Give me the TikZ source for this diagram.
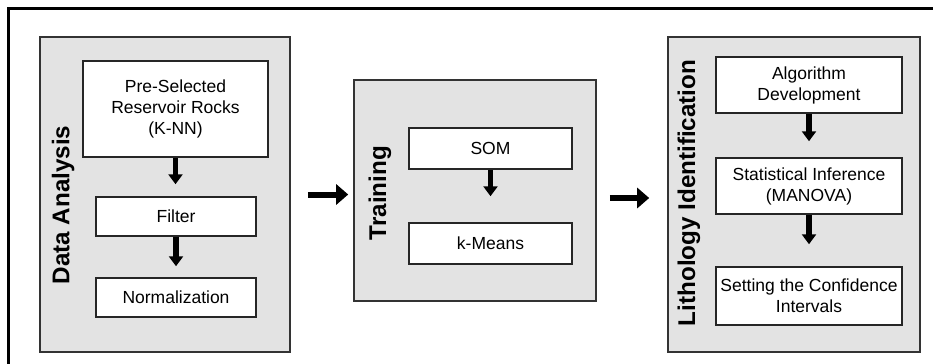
\documentclass[tikz,border=0pt]{standalone}
\usepackage{fontspec}
\setmainfont{Liberation Sans}
\usetikzlibrary{arrows.meta,calc}

\tikzset{
  panel/.style={draw=black!80, line width=1.6bp, fill=black!11, inner sep=0pt},
  stepbox/.style={draw=black!85, line width=1.5bp, fill=white, inner sep=2bp,
    align=center, font=\fontsize{17.5bp}{21bp}\selectfont},
  paneltitle/.style={rotate=90, font=\fontsize{24.2bp}{28bp}\selectfont\bfseries},
  downarrow/.style={line width=5.2bp, -{Triangle[width=14bp,length=10bp]}},
  sidearrow/.style={line width=6bp, -{Triangle[width=20bp,length=12bp]}}
}

\begin{document}
\begin{tikzpicture}[x=1bp, y=-1bp]
  \useasboundingbox (0,0) rectangle (933,363);

  % outer frame (top and left edges)
  \draw[line width=3bp] (940,8) -- (8,8) -- (8,370);

  % ---------- Data Analysis ----------
  \node[panel, minimum width=250bp, minimum height=315bp] (da) at (165,194.5) {};
  \node[paneltitle] (daT) at (63,205) {Data Analysis};
  \node[stepbox, minimum width=185bp, minimum height=96bp] (pre) at (175.5,109)
    {Pre-Selected\\Reservoir Rocks\\(K-NN)};
  \node[stepbox, minimum width=160bp, minimum height=39bp] (filt) at (176,216.5) {Filter};
  \node[stepbox, minimum width=160bp, minimum height=39bp] (norm) at (176,297.5) {Normalization};

  \draw[downarrow, shorten >=12bp] (pre.south) -- (pre.south |- filt.north);
  \draw[downarrow, shorten >=11bp] (filt.south) -- (filt.south |- norm.north);

  % ---------- Training ----------
  \node[panel, minimum width=242bp, minimum height=221bp] (tr) at (475,190.5) {};
  \node[paneltitle] (trT) at (380,193) {Training};
  \node[stepbox, minimum width=163bp, minimum height=41bp] (som) at (490.5,148.5) {SOM};
  \node[stepbox, minimum width=163bp, minimum height=41bp] (km) at (490.5,243.5) {k-Means};

  \draw[downarrow, shorten >=26bp] (som.south) -- (som.south |- km.north);

  % ---------- Lithology Identification ----------
  \node[panel, minimum width=252bp, minimum height=315bp] (li) at (794,194.5) {};
  \node[paneltitle] (liT) at (689,193) {Lithology Identification};
  \node[stepbox, minimum width=186bp, minimum height=56bp] (alg) at (809,85)
    {Algorithm\\Development};
  \node[stepbox, minimum width=186bp, minimum height=56bp] (stat) at (809,186)
    {Statistical Inference\\(MANOVA)};
  \node[stepbox, minimum width=186bp, minimum height=58bp] (conf) at (809,296)
    {Setting the Confidence\\Intervals};

  \draw[downarrow, shorten >=16bp] (alg.south) -- (alg.south |- stat.north);
  \draw[downarrow, shorten >=22bp] (stat.south) -- (stat.south |- conf.north);

  % ---------- links between stages ----------
  \draw[sidearrow, shorten <=17bp, shorten >=5bp] (da.east) -- (da.east -| tr.west);
  \draw[sidearrow, shorten <=13bp, shorten >=18bp]
    ([yshift=-7.5bp]tr.east) -- ([yshift=-7.5bp]tr.east -| li.west);
\end{tikzpicture}
\end{document}
